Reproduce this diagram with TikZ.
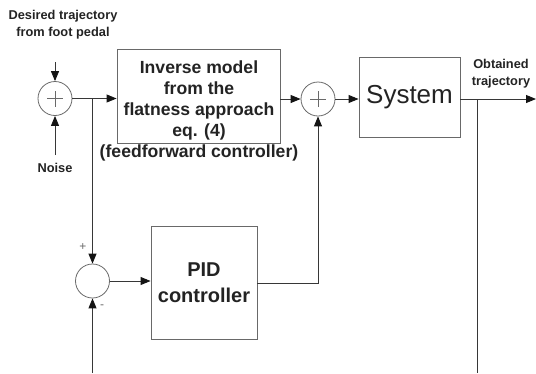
\documentclass[tikz,border=0pt]{standalone}
\usepackage{fontspec}
\setmainfont{Liberation Sans}
\usetikzlibrary{arrows.meta}
\definecolor{linecol}{RGB}{55,55,55}
\definecolor{boxcol}{RGB}{105,105,105}
\definecolor{txtcol}{RGB}{35,35,35}
\definecolor{tipcol}{RGB}{20,20,20}
\begin{document}
\begin{tikzpicture}[x=1pt,y=-1pt,
  conn/.style={draw=linecol,line width=0.9pt},
  arr/.style={conn,-{Triangle[length=10pt,width=8pt,color=tipcol]}},
  blk/.style={draw=boxcol,line width=0.9pt,rectangle,inner sep=0pt},
  sumc/.style={draw=boxcol,line width=0.8pt,circle,minimum size=34pt,inner sep=0pt},
  lbl/.style={text=txtcol,font=\bfseries\fontsize{12.8}{17}\selectfont,align=center,inner sep=0pt},
  plusmark/.style={draw=boxcol,line width=0.5pt}
]
\useasboundingbox (0,0) rectangle (536,373);

% summing junctions
\node[sumc] (s1) at (55,98.5) {};
\node[sumc] (s2) at (92.5,281) {};
\node[sumc] (s3) at (318,99) {};
\foreach \s in {s1,s3}{
  \draw[plusmark] ([xshift=-8pt]\s.center) -- ([xshift=8pt]\s.center);
  \draw[plusmark] ([yshift=-8pt]\s.center) -- ([yshift=8pt]\s.center);
}

% blocks
\node[blk,minimum width=163pt,minimum height=94pt] (inv) at (198.5,96) {};
\node[text=txtcol,font=\bfseries\fontsize{17.6}{21}\selectfont,align=center,inner sep=0pt] (invtxt) at (199,111)
  {Inverse model\\from the\\flatness approach\\eq. (4)\\(feedforward controller)};
\node[blk,minimum width=101pt,minimum height=80pt,text=txtcol,font=\fontsize{26}{30}\selectfont] (sys) at (409.5,97) {System};
\node[blk,minimum width=106pt,minimum height=113pt,text=txtcol,font=\bfseries\fontsize{20}{26}\selectfont,align=center] (pid) at (204,282.5) {PID\\controller};

% labels
\node[lbl] (des) at (63,25) {Desired trajectory\\from foot pedal};
\node[lbl] (noise) at (55,168) {Noise};
\node[lbl] (obt) at (501,74) {Obtained\\trajectory};
\node[text=boxcol,font=\fontsize{12}{12}\selectfont,inner sep=0pt] (plus2) at (83,247) {+};
\node[text=boxcol,font=\fontsize{12}{12}\selectfont,inner sep=0pt] (minus2) at (102,307) {-};

% free ends
\coordinate (desend) at (55,62);
\coordinate (noiseend) at (55,155);
\coordinate (br1) at (92.5,98.5);
\coordinate (fbbot) at (92.5,373);
\coordinate (pidc) at (318,283);
\coordinate (br2) at (477,99);
\coordinate (outend) at (536,99);
\coordinate (br2bot) at (477,373);

% connectors
\draw[arr] (desend) -- (s1.north);
\draw[arr] (noiseend) -- (s1.south);
\draw[arr] (s1.east) -- (s1.east -| inv.west);
\draw[arr] (br1) -- (s2.north);
\draw[arr] (fbbot) -- (s2.south);
\draw[arr] (s2.east) -- (s2.east -| pid.west);
\draw[arr] (s3.west -| inv.east) -- (s3.west);
\draw[arr] (pid.east |- pidc) -- (pidc) -- (s3.south);
\draw[arr] (s3.east) -- (s3.east -| sys.west);
\draw[arr] (s3.east -| sys.east) -- (outend);
\draw[conn] (br2) -- (br2bot);
\end{tikzpicture}
\end{document}
